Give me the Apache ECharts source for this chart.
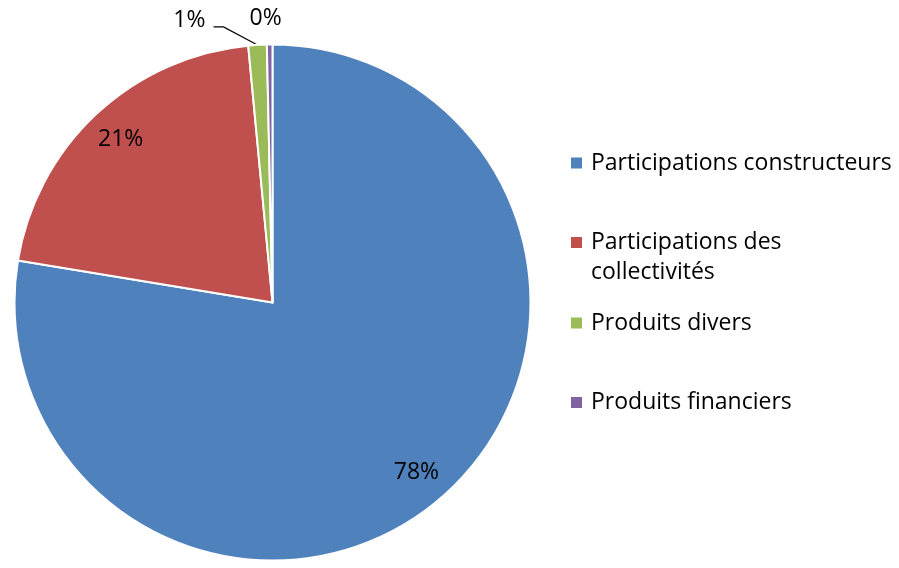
<!DOCTYPE html>
<html>
<head>
<meta charset="utf-8">
<script src="https://cdn.jsdelivr.net/npm/echarts@6/dist/echarts.min.js"></script>
<style>
  html, body { margin: 0; padding: 0; background: #fff; }
  #chart { width: 899px; height: 568px; }
</style>
</head>
<body>
<div id="chart"></div>
<script>
const categories = ['Participations constructeurs', 'Participations des collectivités', 'Produits divers', 'Produits financiers'];
const shares = [77.6, 20.9, 1.15, 0.35];
const colors = ['#4F81BD', '#C0504D', '#9BBB59', '#8064A2'];

const FONT = 'Open Sans';
const FS = 23;
const pctFmt = p => Math.round(p.percent) + '%';

const pieData = categories.map((name, i) => ({ name: name, value: shares[i] }));

const chart = echarts.init(document.getElementById('chart'), null, { renderer: 'canvas' });

function legendFor(idx, top) {
  return {
    orient: 'vertical',
    left: 571,
    top: top,
    padding: 0,
    icon: 'rect',
    itemWidth: 11,
    itemHeight: 11,
    itemStyle: { borderWidth: 0 },
    selectedMode: false,
    data: [categories[idx]],
    formatter: name => name === categories[1] ? '\nParticipations des\ncollectivités' : name,
    textStyle: {
      fontFamily: FONT,
      fontSize: FS,
      lineHeight: 30,
      color: '#000',
      padding: [0, 0, 0, 4]
    }
  };
}

const option = {
  backgroundColor: '#ffffff',
  animation: false,
  color: colors,
  legend: [
    legendFor(0, 148),
    legendFor(1, 197.5),
    legendFor(2, 308),
    legendFor(3, 387.5)
  ],
  series: [
    {
      type: 'pie',
      center: [272.5, 302.5],
      radius: [0, 258],
      startAngle: 90,
      clockwise: true,
      avoidLabelOverlap: false,
      silent: true,
      itemStyle: { borderColor: '#ffffff', borderWidth: 2 },
      label: { show: false },
      labelLine: { show: false },
      data: pieData.map((d, i) => {
        const item = { name: d.name, value: d.value };
        if (i === 2) {
          item.label = { show: true, position: 'outside', formatter: pctFmt, fontFamily: FONT, fontSize: FS, color: '#000' };
          item.labelLine = { show: true, length: 10, length2: 10, lineStyle: { color: '#000', width: 1.2 } };
        } else if (i === 3) {
          item.label = { show: true, position: 'outside', formatter: pctFmt, fontFamily: FONT, fontSize: FS, color: '#000' };
          item.labelLine = { show: false };
        }
        return item;
      }),
      labelLayout: function (p) {
        const start = (p.labelLinePoints && p.labelLinePoints[0]) ? p.labelLinePoints[0] : [p.rect.x, p.rect.y];
        if (p.dataIndex === 2) {
          const elbow = [start[0] - 34, start[1] - 18];
          const end = [elbow[0] - 10, elbow[1]];
          return {
            x: end[0] - 8, y: end[1] - 6,
            align: 'right', verticalAlign: 'middle',
            labelLinePoints: [start, elbow, end]
          };
        }
        if (p.dataIndex === 3) {
          return {
            x: p.rect.x + p.rect.width / 2 - 4, y: p.rect.y - 25,
            align: 'center', verticalAlign: 'middle'
          };
        }
      }
    },
    {
      type: 'pie',
      center: [272.5, 302.5],
      radius: [181, 258],
      startAngle: 90,
      clockwise: true,
      silent: true,
      avoidLabelOverlap: false,
      itemStyle: { color: 'rgba(0,0,0,0)', borderWidth: 0 },
      emphasis: { disabled: true },
      labelLine: { show: false },
      label: { show: false },
      data: pieData.map((d, i) => {
        const item = { name: d.name, value: d.value };
        if (i < 2) {
          item.label = { show: true, position: 'inside', formatter: pctFmt, fontFamily: FONT, fontSize: FS, color: '#000' };
        }
        return item;
      })
    }
  ]
};

chart.setOption(option);
</script>
</body>
</html>
